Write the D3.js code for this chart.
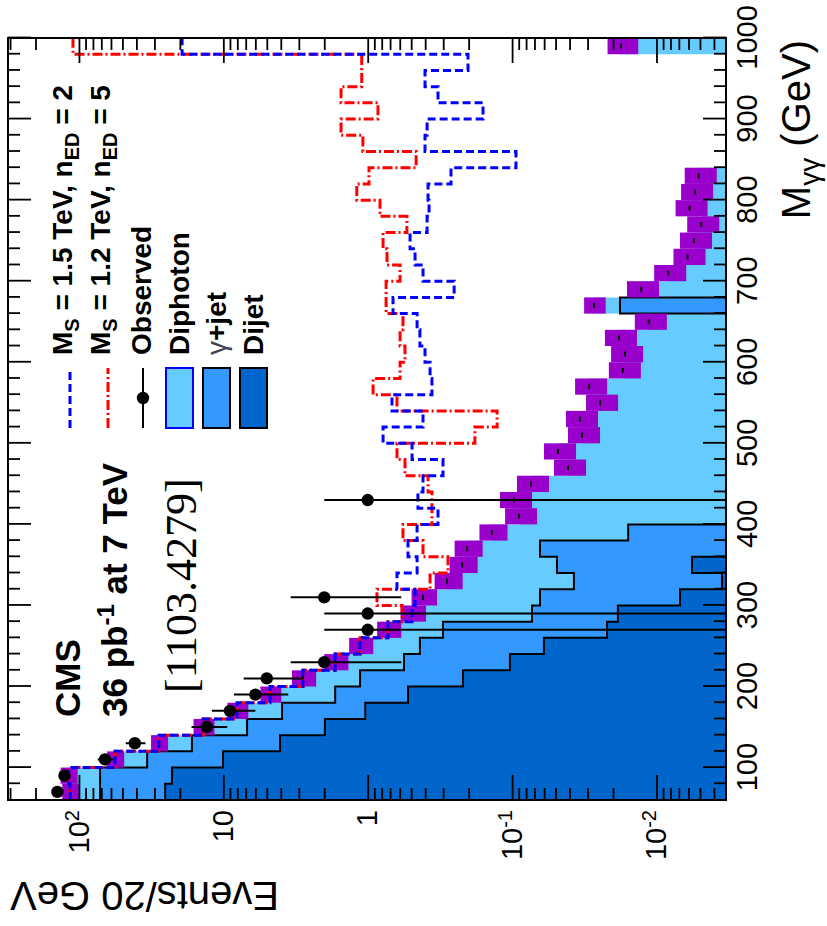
<!DOCTYPE html>
<html>
<head>
<meta charset="utf-8">
<script src="https://cdn.jsdelivr.net/npm/d3@7"></script>
<style>
  body { margin: 0; background: #fff; }
  svg { display: block; }
  text { font-family: "Liberation Sans", Arial, Helvetica, sans-serif; fill: #000; }
</style>
</head>
<body>
<svg id="chart" width="827" height="926"></svg>
<script>
// ---- data: diphoton invariant mass spectrum, 20 GeV bins ----
const binWidth = 20;
const binLow = [60,80,100,120,140,160,180,200,220,240,260,280,300,320,340,360,380,400,420,440,
  460,480,500,520,540,560,580,600,620,640,660,680,700,720,740,760,780,800,820,840,
  860,880,900,920,940,960,980];

// stacked SM background: diphoton + gamma+jet + dijet (events / 20 GeV)
const stackTotal = [115,118,56.2,27.9,13.8,8.04,4.75,2.81,1.68,1.13,0.723,0.493,0.414,0.282,0.222,0.205,0.138,0.0895,0.097,0.074,
  0.041,0.0481,0.0328,0.0339,0.0246,0.0293,0.0171,0.0165,0.0182,0.0113,0.0271,0.0128,0.0083,0.0061,0.0055,0.0049,0.0059,0.0054,0.0051,0,
  0,0,0,0,0,0,0.0176];
// relative uncertainty of the background prediction
const bandRelErr = [0.135,0.135,0.135,0.135,0.165,0.165,0.165,0.19,0.19,0.19,0.19,0.2,0.2,0.22,0.22,0.22,0.22,0.25,0.25,0.25,
  0.25,0.25,0.25,0.25,0.25,0.25,0.25,0.25,0.25,0.25,0.17,0.25,0.25,0.25,0.25,0.25,0.25,0.25,0.25,0,
  0,0,0,0,0,0,0.24];
// gamma+jet + dijet
const stackGjetDijet = [71.4,71.4,33.7,16.5,6.85,3.92,1.68,1.13,0.561,0.435,0.301,0.0728,0.0641,0.0373,0.0489,0.0641,0.0157,0,0,0,
  0,0,0,0,0,0,0,0,0,0,0.0179,0,0,0,0,0,0,0,0,0,
  0,0,0,0,0,0,0];
// dijet
const stackDijet = [25.3,22.7,10.05,4.05,1.98,1.04,0.526,0.219,0.1035,0.0602,0.022,0.0185,0.00687,0.00352,0.00567,0,0,0,0,0,
  0,0,0,0,0,0,0,0,0,0,0,0,0,0,0,0,0,0,0,0,
  0,0,0,0,0,0,0];
// SM + ADD signal, M_S = 1.5 TeV, n_ED = 2
const signalMs15n2 = [115,118,56.2,27.9,13.8,8.04,4.75,2.81,1.68,1.13,0.723,0.493,0.470,0.627,0.455,0.526,0.455,0.326,0.449,0.414,
  0.301,0.493,0.783,0.414,0.679,0.359,0.370,0.401,0.435,0.455,0.668,0.252,0.414,0.470,0.509,0.388,0.376,0.382,0.265,0.094,
  0.401,0.388,0.159,0.326,0.401,0.202,19.3];
// SM + ADD signal, M_S = 1.2 TeV, n_ED = 5
const signalMs12n5 = [115,118,56.2,27.9,13.8,8.04,4.75,2.81,1.68,1.13,0.723,0.578,0.863,0.370,0.278,0.414,0.570,0.359,0.359,0.382,
  0.552,0.627,0.181,0.127,0.627,0.918,0.597,0.552,0.597,0.570,0.746,0.746,0.597,0.735,0.783,0.535,0.822,1.19,0.98,0.462,
  1.08,1.53,0.849,1.53,1.10,1.10,110];
// observed event counts
const observed = [141,126,66,41,13,9,6,5,2,0,1,1,2,0,0,0,0,0,1,0,
  0,0,0,0,0,0,0,0,0,0,0,0,0,0,0,0,0,0,0,0,
  0,0,0,0,0,0,0];

const massTicks = [100,200,300,400,500,600,700,800,900,1000];
const eventTicks = [0.01,0.1,1,10,100];
const eventTickLabels = [["10","-2"],["10","-1"],["1",""],["10",""],["10","2"]];

const colDiphoton = "#66ccff", colGjet = "#3399ff", colDijet = "#0066cc", colBand = "#9900cc";

// ---- frame: the plot is laid out in its own frame and turned a quarter turn ----
const W = 762, H = 718;
const svg = d3.select("#chart");
const g = svg.append("g").attr("transform", "translate(8,800) rotate(-90)");

const x = d3.scaleLinear().domain([60, 1000]).range([0, W]);
const y = d3.scaleLog().domain([0.0033, 310]).range([H, 0]).clamp(true);
const yv = v => (v > 0 ? y(v) : H);
const n = binLow.length;

const steps = vals => {
  const pts = binLow.map((m, i) => [m, vals[i]]);
  pts.push([binLow[n - 1] + binWidth, vals[n - 1]]);
  return pts;
};
const area = d3.area().x(d => x(d[0])).y0(H).y1(d => yv(d[1])).curve(d3.curveStepAfter);
const line = d3.line().x(d => x(d[0])).y(d => yv(d[1])).curve(d3.curveStepAfter);

// stacked fills
g.append("path").attr("d", area(steps(stackTotal))).attr("fill", colDiphoton);
g.append("path").attr("d", area(steps(stackGjetDijet))).attr("fill", colGjet);
g.append("path").attr("d", area(steps(stackDijet))).attr("fill", colDijet);
g.append("path").attr("d", line(steps(stackGjetDijet))).attr("fill", "none").attr("stroke", "#000").attr("stroke-width", 2);
g.append("path").attr("d", line(steps(stackDijet))).attr("fill", "none").attr("stroke", "#000").attr("stroke-width", 2);

// background uncertainty band
const bins = binLow.map((m, i) => ({ m, tot: stackTotal[i], e: bandRelErr[i], obs: observed[i] }));
g.append("g").selectAll("rect").data(bins.filter(d => d.tot > 0)).join("rect")
  .attr("x", d => x(d.m))
  .attr("width", d => x(d.m + binWidth) - x(d.m))
  .attr("y", d => yv(d.tot * (1 + d.e)))
  .attr("height", d => yv(d.tot * (1 - d.e)) - yv(d.tot * (1 + d.e)))
  .attr("fill", colBand);
g.append("g").selectAll("line").data(bins.filter(d => d.tot > 0)).join("line")
  .attr("x1", d => x(d.m + binWidth / 2) - 2.5).attr("x2", d => x(d.m + binWidth / 2) + 2.5)
  .attr("y1", d => yv(d.tot)).attr("y2", d => yv(d.tot))
  .attr("stroke", "#000").attr("stroke-width", 2);

// signal hypotheses
g.append("path").attr("d", line(steps(signalMs12n5))).attr("fill", "none")
  .attr("stroke", "#ff0000").attr("stroke-width", 3).attr("stroke-dasharray", "10,3,2,3");
g.append("path").attr("d", line(steps(signalMs15n2))).attr("fill", "none")
  .attr("stroke", "#0000ff").attr("stroke-width", 3).attr("stroke-dasharray", "8,4");

// observed data
const obs = bins.filter(d => d.obs > 0);
g.append("g").selectAll("line").data(obs).join("line")
  .attr("x1", d => x(d.m + binWidth / 2)).attr("x2", d => x(d.m + binWidth / 2))
  .attr("y1", d => yv(d.obs - Math.sqrt(d.obs))).attr("y2", d => yv(d.obs + Math.sqrt(d.obs)))
  .attr("stroke", "#000").attr("stroke-width", 2);
g.append("g").selectAll("circle").data(obs).join("circle")
  .attr("cx", d => x(d.m + binWidth / 2)).attr("cy", d => yv(d.obs)).attr("r", 6.2).attr("fill", "#000");

// ---- axes (ticks point inward, mirrored on the opposite sides) ----
const massMinor = d3.range(80, 1000, 20).filter(v => v % 100 !== 0);
const eventMinor = [];
for (let k = -3; k <= 2; k++) for (let m = 2; m <= 9; m++) {
  const v = m * Math.pow(10, k);
  if (v >= 0.0033 && v <= 310) eventMinor.push(v);
}
function styleAxis(sel) {
  sel.select(".domain").remove();
  sel.selectAll(".tick line").attr("stroke", "#000").attr("stroke-width", 1.8);
}
const xAxis = g.append("g").attr("transform", `translate(0,${H})`)
  .call(d3.axisBottom(x).tickValues(massTicks).tickSize(-23).tickPadding(10).tickFormat(d3.format("d")))
  .call(styleAxis);
xAxis.selectAll("text").attr("font-size", 29).attr("fill", "#000");
g.append("g").attr("transform", `translate(0,${H})`)
  .call(d3.axisBottom(x).tickValues(massMinor).tickSize(-12).tickFormat("")).call(styleAxis);
g.append("g").call(d3.axisTop(x).tickValues(massTicks).tickSize(-23).tickFormat("")).call(styleAxis);
g.append("g").call(d3.axisTop(x).tickValues(massMinor).tickSize(-12).tickFormat("")).call(styleAxis);

const yAxis = g.append("g")
  .call(d3.axisLeft(y).tickValues(eventTicks).tickSize(-25).tickPadding(10).tickFormat(""))
  .call(styleAxis);
yAxis.selectAll(".tick text").each(function (d, i) {
  const t = d3.select(this).attr("font-size", 29).attr("fill", "#000");
  const lab = eventTickLabels[i];
  t.text(null);
  t.append("tspan").text(lab[0]);
  if (lab[1]) t.append("tspan").attr("dy", "-0.5em").attr("font-size", 20).text(lab[1]);
});
g.append("g").call(d3.axisLeft(y).tickValues(eventMinor).tickSize(-12).tickFormat("")).call(styleAxis);
g.append("g").attr("transform", `translate(${W},0)`)
  .call(d3.axisRight(y).tickValues(eventTicks).tickSize(-25).tickFormat("")).call(styleAxis);
g.append("g").attr("transform", `translate(${W},0)`)
  .call(d3.axisRight(y).tickValues(eventMinor).tickSize(-12).tickFormat("")).call(styleAxis);

g.append("rect").attr("x", 0).attr("y", 0).attr("width", W).attr("height", H)
  .attr("fill", "none").attr("stroke", "#000").attr("stroke-width", 2);

// axis titles
const xt = g.append("text").attr("x", W - 2).attr("y", H + 84).attr("text-anchor", "end").attr("font-size", 40);
xt.append("tspan").text("M");
xt.append("tspan").attr("dy", 9).attr("font-size", 28).text("γγ");
xt.append("tspan").attr("dy", -9).text(" (GeV)");
g.append("text").attr("transform", "translate(-82,2) rotate(-90)").attr("text-anchor", "end")
  .attr("font-size", 40).text("Events/20 GeV");

// labels
g.append("text").attr("x", 83).attr("y", 72).attr("font-size", 35).attr("font-weight", "bold").text("CMS");
const lumi = g.append("text").attr("x", 83).attr("y", 119).attr("font-size", 35).attr("font-weight", "bold");
lumi.append("tspan").text("36 pb");
lumi.append("tspan").attr("dy", -13).attr("font-size", 24).text("-1");
lumi.append("tspan").attr("dy", 13).text(" at 7 TeV");
g.append("text").attr("x", 107).attr("y", 188).attr("font-size", 44)
  .style("font-family", "'Liberation Serif', 'Times New Roman', serif").text("[1103.4279]");

// legend
const legX0 = 372, legX1 = 432, legText = 445;
const leg = g.append("g").attr("font-size", 28).attr("font-weight", "bold");
function legLabel(yb, parts) {
  const t = leg.append("text").attr("x", legText).attr("y", yb);
  parts.forEach(p => {
    const s = t.append("tspan").text(p.t);
    if (p.sub) s.attr("dy", 7).attr("font-size", 20);
    if (p.up) s.attr("dy", -7);
    if (p.normal) s.attr("font-weight", "normal").attr("fill", "#445");
  });
}
leg.append("line").attr("x1", legX0).attr("x2", legX1).attr("y1", 62).attr("y2", 62)
  .attr("stroke", "#0000ff").attr("stroke-width", 3).attr("stroke-dasharray", "8,4");
legLabel(64, [{ t: "M" }, { t: "S", sub: true }, { t: " = 1.5 TeV, n", up: true }, { t: "ED", sub: true }, { t: " = 2", up: true }]);
leg.append("line").attr("x1", legX0).attr("x2", legX1).attr("y1", 100).attr("y2", 100)
  .attr("stroke", "#ff0000").attr("stroke-width", 3).attr("stroke-dasharray", "10,3,2,3");
legLabel(102, [{ t: "M" }, { t: "S", sub: true }, { t: " = 1.2 TeV, n", up: true }, { t: "ED", sub: true }, { t: " = 5", up: true }]);
leg.append("line").attr("x1", legX0).attr("x2", legX1).attr("y1", 135).attr("y2", 135)
  .attr("stroke", "#000").attr("stroke-width", 2);
leg.append("circle").attr("cx", (legX0 + legX1) / 2).attr("cy", 135).attr("r", 6.2).attr("fill", "#000");
legLabel(143, [{ t: "Observed" }]);
const boxes = [
  { y0: 158, fill: colDiphoton, stroke: "#0000ff", label: [{ t: "Diphoton" }], yb: 181 },
  { y0: 195, fill: colGjet, stroke: "#000", label: [{ t: "γ", normal: true }, { t: "+jet" }], yb: 218 },
  { y0: 232, fill: colDijet, stroke: "#000", label: [{ t: "Dijet" }], yb: 255 }
];
boxes.forEach(b => {
  leg.append("rect").attr("x", legX0).attr("y", b.y0).attr("width", legX1 - legX0).attr("height", 27)
    .attr("fill", b.fill).attr("stroke", b.stroke).attr("stroke-width", 2);
  legLabel(b.yb, b.label);
});
</script>
</body>
</html>
